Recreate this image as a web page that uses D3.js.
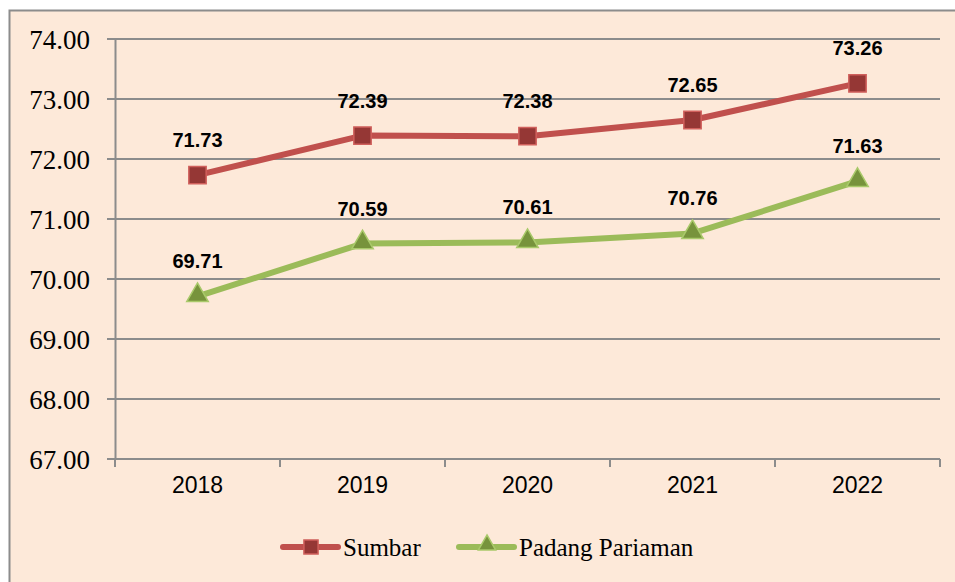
<!DOCTYPE html>
<html lang="id">
<head>
  <meta charset="UTF-8">
  <title>Sumbar dan Padang Pariaman 2018-2022</title>
  <script src="https://d3js.org/d3.v7.min.js"></script>
  <style>
    body { margin: 0; background: #fff; }
    svg { display: block; }
    .ytick { font-family: "Liberation Serif", serif; font-size: 27px; fill: #000; }
    .xtick { font-family: "Liberation Sans", Arial, sans-serif; font-size: 23px; fill: #000; }
    .lbl { font-family: "Liberation Sans", Arial, sans-serif; font-size: 20px; font-weight: bold; fill: #000; }
    .leg { font-family: "Liberation Serif", serif; font-size: 25px; fill: #000; }
  </style>
</head>
<body>
  <svg width="955" height="582"></svg>

  <script>
    const years = ["2018", "2019", "2020", "2021", "2022"];
    const sumbar = [71.73, 72.39, 72.38, 72.65, 73.26];
    const padang = [69.71, 70.59, 70.61, 70.76, 71.63];
    const yTicks = [67, 68, 69, 70, 71, 72, 73, 74];

    const svg = d3.select("svg");

    // latar dan bingkai
    svg.append("rect")
      .attr("x", 9.5).attr("y", 10.5)
      .attr("width", 1000).attr("height", 700)
      .attr("fill", "#fde9d9")
      .attr("stroke", "#8c8c8c")
      .attr("stroke-width", 2);

    const plotL = 115, plotR = 940, plotT = 39, plotB = 459;

    const x = d3.scaleBand().domain(years).range([plotL, plotR]);
    const y = d3.scaleLinear().domain([67, 74]).range([plotB, plotT]);

    // garis grid
    svg.append("g")
      .selectAll("line")
      .data(yTicks)
      .join("line")
      .attr("x1", plotL - 8).attr("x2", plotR)
      .attr("y1", d => y(d)).attr("y2", d => y(d))
      .attr("stroke", "#8c8c8c")
      .attr("stroke-width", 2);

    // sumbu y
    const yAxis = svg.append("g")
      .attr("transform", `translate(${plotL},0)`)
      .call(d3.axisLeft(y).tickValues(yTicks).tickFormat(d3.format(".2f")).tickSize(0).tickPadding(25));
    yAxis.select(".domain").attr("stroke", "#8c8c8c").attr("stroke-width", 2);
    yAxis.selectAll("text").attr("class", "ytick").attr("dy", "0.35em");

    // sumbu x
    const xAxis = svg.append("g")
      .attr("transform", `translate(0,${plotB})`)
      .call(d3.axisBottom(x).tickSize(0).tickPadding(25));
    xAxis.select(".domain").remove();
    xAxis.selectAll("text").attr("class", "xtick").attr("dy", "0.4em");

    // tanda pada sumbu x di batas kategori
    const bounds = years.map(d => x(d)).concat([plotR]);
    svg.append("g")
      .selectAll("line")
      .data(bounds)
      .join("line")
      .attr("x1", d => d).attr("x2", d => d)
      .attr("y1", plotB).attr("y2", plotB + 8)
      .attr("stroke", "#8c8c8c")
      .attr("stroke-width", 2);

    const cx = d => x(d) + x.bandwidth() / 2;

    const series = [
      { name: "Sumbar", values: sumbar, line: "#c0504d", fill: "#953735", stroke: "#d0605c", shape: d3.symbolSquare },
      { name: "Padang Pariaman", values: padang, line: "#9bbb59", fill: "#77933c", stroke: "#a9c96a", shape: d3.symbolTriangle }
    ];

    const line = d3.line().x(d => cx(d.year)).y(d => y(d.v));

    series.forEach(s => {
      const pts = years.map((yr, i) => ({ year: yr, v: s.values[i] }));

      svg.append("path")
        .datum(pts)
        .attr("d", line)
        .attr("fill", "none")
        .attr("stroke", s.line)
        .attr("stroke-width", 6)
        .attr("stroke-linejoin", "round");

      svg.append("g")
        .selectAll("path")
        .data(pts)
        .join("path")
        .attr("d", d3.symbol().type(s.shape).size(s.shape === d3.symbolSquare ? 300 : 200))
        .attr("transform", d => `translate(${cx(d.year)},${y(d.v) + (s.shape === d3.symbolSquare ? 0 : -1)})`)
        .attr("fill", s.fill)
        .attr("stroke", s.stroke)
        .attr("stroke-width", 1.5);

      svg.append("g")
        .selectAll("text")
        .data(pts)
        .join("text")
        .attr("class", "lbl")
        .attr("x", d => cx(d.year))
        .attr("y", d => y(d.v) - 28)
        .attr("text-anchor", "middle")
        .text(d => d.v.toFixed(2));
    });

    // legenda
    const legX = [283, 459];
    const legY = 547;
    series.forEach((s, i) => {
      const g = svg.append("g").attr("transform", `translate(${legX[i]},${legY})`);
      g.append("line")
        .attr("x1", 0).attr("x2", 55)
        .attr("y1", 0).attr("y2", 0)
        .attr("stroke", s.line)
        .attr("stroke-width", 6)
        .attr("stroke-linecap", "round");
      g.append("path")
        .attr("d", d3.symbol().type(s.shape).size(s.shape === d3.symbolSquare ? 200 : 130))
        .attr("transform", `translate(28,${s.shape === d3.symbolSquare ? 0 : -2})`)
        .attr("fill", s.fill)
        .attr("stroke", s.stroke)
        .attr("stroke-width", 1.5);
      g.append("text")
        .attr("class", "leg")
        .attr("x", 60)
        .attr("y", 9)
        .text(s.name);
    });
  </script>
</body>
</html>
